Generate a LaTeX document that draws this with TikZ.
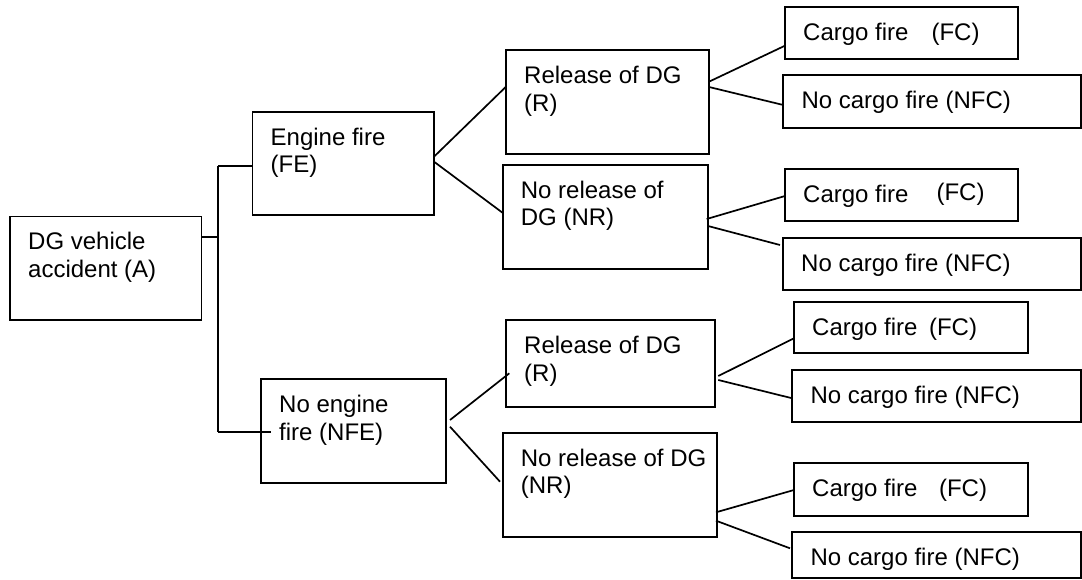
\documentclass[tikz,border=0pt]{standalone}
\usepackage{fontspec}
\setmainfont{Liberation Sans}
\newcommand{\twolines}[2]{\vtop{\hbox{#1}\hbox{#2}}}
\begin{document}
\begin{tikzpicture}[x=1pt,y=-1pt,
    evbox/.style={draw, line width=1.8pt, inner sep=0pt, outer sep=0pt, anchor=north west},
    evtext/.style={anchor=base west, inner sep=0pt, font=\fontsize{24}{27.7}\selectfont},
    link/.style={line width=1.7pt}]
    \useasboundingbox (0,0) rectangle (1082,580);

    % Event boxes, placed by their top left corner
    \node[evbox, minimum width=191.5pt, minimum height=103.5pt] (A) at (10,216.5) {};
    \node[evbox, minimum width=181.5pt, minimum height=103.3pt] (FE) at (252.5,111.7) {};
    \node[evbox, minimum width=185pt, minimum height=104pt] (NFE) at (261,379.3) {};
    \node[evbox, minimum width=203pt, minimum height=104.3pt] (R1) at (506,50) {};
    \node[evbox, minimum width=205.3pt, minimum height=104.6pt] (NR1) at (502.7,164.7) {};
    \node[evbox, minimum width=209pt, minimum height=86.7pt] (R2) at (506,320) {};
    \node[evbox, minimum width=214.3pt, minimum height=104pt] (NR2) at (502.7,432.7) {};

    % Outcome boxes
    \node[evbox, minimum width=233.3pt, minimum height=52pt] (FC1) at (785,7.3) {};
    \node[evbox, minimum width=297.7pt, minimum height=52.7pt] (NFC1) at (783.3,75) {};
    \node[evbox, minimum width=233.3pt, minimum height=51.7pt] (FC2) at (785,169.3) {};
    \node[evbox, minimum width=298pt, minimum height=52.3pt] (NFC2) at (783,237.7) {};
    \node[evbox, minimum width=233.7pt, minimum height=51.6pt] (FC3) at (794,301.7) {};
    \node[evbox, minimum width=288.7pt, minimum height=51.7pt] (NFC3) at (792.3,370) {};
    \node[evbox, minimum width=233.7pt, minimum height=52.4pt] (FC4) at (794,463.3) {};
    \node[evbox, minimum width=288.7pt, minimum height=46.3pt] (NFC4) at (792.3,531.7) {};

    % Texts, first baseline below the top left corner
    \node[evtext] (A-t) at ([xshift=18pt,yshift=-33.5pt]A.north west) {\twolines{DG vehicle}{accident (A)}};
    \node[evtext] (FE-t) at ([xshift=18pt,yshift=-33.5pt]FE.north west) {\twolines{Engine fire}{(FE)}};
    \node[evtext] (NFE-t) at ([xshift=18pt,yshift=-33.5pt]NFE.north west) {\twolines{No engine}{fire (NFE)}};
    \node[evtext] (R1-t) at ([xshift=18pt,yshift=-33.5pt]R1.north west) {\twolines{Release of DG}{(R)}};
    \node[evtext] (NR1-t) at ([xshift=18pt,yshift=-33.5pt]NR1.north west) {\twolines{No release of}{DG (NR)}};
    \node[evtext] (R2-t) at ([xshift=18pt,yshift=-33.5pt]R2.north west) {\twolines{Release of DG}{(R)}};
    \node[evtext] (NR2-t) at ([xshift=18pt,yshift=-33.5pt]NR2.north west) {\twolines{No release of DG}{(NR)}};
    \node[evtext] (FC1-t) at ([xshift=18pt,yshift=-33.5pt]FC1.north west) {Cargo fire\hspace{23pt}(FC)};
    \node[evtext] (NFC1-t) at ([xshift=18pt,yshift=-33.5pt]NFC1.north west) {No cargo fire (NFC)};
    \node[evtext] (FC2-t) at ([xshift=18pt,yshift=-33.5pt]FC2.north west) {Cargo fire\hspace{28pt}\raisebox{2.5pt}{(FC)}};
    \node[evtext] (NFC2-t) at ([xshift=18pt,yshift=-33.5pt]NFC2.north west) {No cargo fire (NFC)};
    \node[evtext] (FC3-t) at ([xshift=18pt,yshift=-33.5pt]FC3.north west) {Cargo fire\hspace{11.5pt}(FC)};
    \node[evtext] (NFC3-t) at ([xshift=18pt,yshift=-33.5pt]NFC3.north west) {No cargo fire (NFC)};
    \node[evtext] (FC4-t) at ([xshift=18pt,yshift=-33.5pt]FC4.north west) {Cargo fire\hspace{21.5pt}(FC)};
    \node[evtext] (NFC4-t) at ([xshift=18pt,yshift=-33.5pt]NFC4.north west) {No cargo fire (NFC)};

    % Bus from the accident box to the first two branches
    \coordinate (A-out) at ([yshift=-20.2pt]A.north east);
    \coordinate (busT) at (218,166);
    \coordinate (busB) at (218,431.7);
    \draw[link] (A-out) -- (busT |- A-out);
    \draw[link] (busT) -- (busB);
    \draw[link] (busT) -- (FE.west |- busT);
    \draw[link] (busB) -- ([xshift=10pt]NFE.west |- busB);

    % Engine fire branches
    \draw[link] ([yshift=-45pt]FE.north east) -- ([yshift=-36.7pt]R1.north west);
    \draw[link] ([yshift=-50pt]FE.north east) -- ([xshift=0.6pt,yshift=-48.6pt]NR1.north west);
    \draw[link] ([xshift=4pt,yshift=-40.7pt]NFE.north east) -- ([xshift=3.3pt,yshift=-53.3pt]R2.north west);
    \draw[link] ([xshift=4pt,yshift=-47.4pt]NFE.north east) -- ([xshift=-2.7pt,yshift=-49pt]NR2.north west);

    % Cargo fire branches
    \draw[link] ([yshift=-31.7pt]R1.north east) -- ([yshift=-38.4pt]FC1.north west);
    \draw[link] ([yshift=-37pt]R1.north east) -- ([yshift=-30pt]NFC1.north west);
    \draw[link] ([xshift=-1.3pt,yshift=-54.3pt]NR1.north east) -- ([yshift=-26.7pt]FC2.north west);
    \draw[link] ([yshift=-61.3pt]NR1.north east) -- ([xshift=-3pt,yshift=-7.3pt]NFC2.north west);
    \draw[link] ([xshift=3.3pt,yshift=-56pt]R2.north east) -- ([yshift=-36.6pt]FC3.north west);
    \draw[link] ([xshift=3.3pt,yshift=-60pt]R2.north east) -- ([yshift=-28.3pt]NFC3.north west);
    \draw[link] ([xshift=-1pt,yshift=-79.6pt]NR2.north east) -- ([yshift=-26.7pt]FC4.north west);
    \draw[link] ([xshift=-1pt,yshift=-88pt]NR2.north east) -- ([xshift=-2.3pt,yshift=-16.6pt]NFC4.north west);

\end{tikzpicture}
\end{document}
